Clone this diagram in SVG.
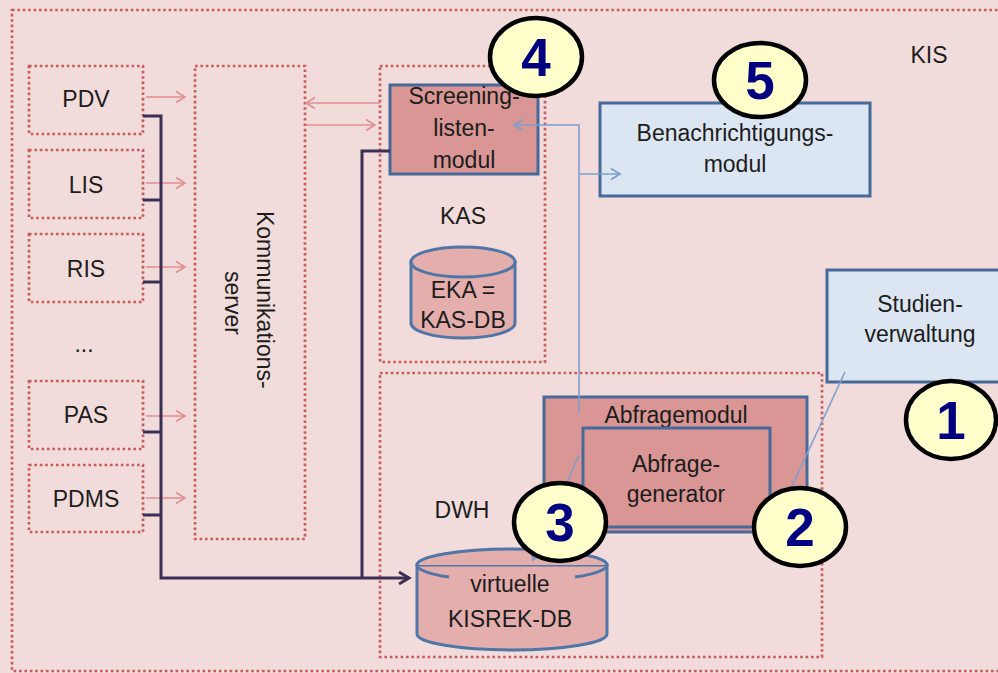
<svg xmlns="http://www.w3.org/2000/svg" width="998" height="673" viewBox="0 0 998 673">
  <defs>
    <style>
      .dot { fill: none; stroke: #c95b5f; stroke-width: 2.7; stroke-dasharray: 2.6 2.8; }
      .mod { fill: #d99694; stroke: #46699a; stroke-width: 3; }
      .info { fill: #dce6f2; stroke: #46699a; stroke-width: 3; }
      .db { fill: #e3aeac; stroke: #4f76a6; stroke-width: 3; }
      .lbl { font-family: "Liberation Sans", Arial, sans-serif; font-size: 23px; fill: #1c1c1c; text-anchor: middle; }
      .num { font-family: "Liberation Sans", Arial, sans-serif; font-size: 53px; font-weight: bold; fill: #000080; text-anchor: middle; }
      .badge { fill: #ffffcc; stroke: #000; stroke-width: 4.5; }
      .feed { fill: none; stroke: #e08f8f; stroke-width: 1.6; }
      .bus { fill: none; stroke: #3b2f55; stroke-width: 3; }
      .link { fill: none; stroke: #7f9fcb; stroke-width: 1.6; }
    </style>
    <marker id="ahPink" markerWidth="14" markerHeight="14" refX="11" refY="7" orient="auto" markerUnits="userSpaceOnUse">
      <polyline points="2,1.5 11,7 2,12.5" fill="none" stroke="#e08f8f" stroke-width="1.6"/>
    </marker>
    <marker id="ahBus" markerWidth="16" markerHeight="16" refX="13" refY="8" orient="auto" markerUnits="userSpaceOnUse">
      <polyline points="3,2 13,8 3,14" fill="none" stroke="#3b2f55" stroke-width="3"/>
    </marker>
    <marker id="ahBlue" markerWidth="14" markerHeight="14" refX="11" refY="7" orient="auto" markerUnits="userSpaceOnUse">
      <polyline points="2,1.5 11,7 2,12.5" fill="none" stroke="#7f9fcb" stroke-width="1.8"/>
    </marker>
  </defs>

  <!-- canvas -->
  <rect x="0" y="0" width="998" height="673" fill="#f2dcdb"/>

  <!-- KIS frame -->
  <g id="kis">
    <rect class="dot" x="12" y="10" width="1000" height="661"/>
    <text class="lbl" x="929" y="63">KIS</text>
  </g>

  <!-- source systems -->
  <g id="pdv">
    <rect class="dot" x="29" y="66" width="114" height="68"/>
    <text class="lbl" x="86" y="107">PDV</text>
  </g>
  <g id="lis">
    <rect class="dot" x="29" y="150" width="114" height="68"/>
    <text class="lbl" x="86" y="193">LIS</text>
  </g>
  <g id="ris">
    <rect class="dot" x="29" y="234" width="114" height="68"/>
    <text class="lbl" x="86" y="277">RIS</text>
  </g>
  <g id="more">
    <text class="lbl" x="84" y="352">...</text>
  </g>
  <g id="pas">
    <rect class="dot" x="29" y="381" width="114" height="68"/>
    <text class="lbl" x="86" y="423">PAS</text>
  </g>
  <g id="pdms">
    <rect class="dot" x="29" y="465" width="114" height="67"/>
    <text class="lbl" x="86" y="507">PDMS</text>
  </g>

  <!-- communication server -->
  <g id="kommunikationsserver">
    <rect class="dot" x="195" y="66" width="110" height="473"/>
    <text class="lbl" transform="translate(248,303) rotate(90)">
      <tspan x="0" y="-9">Kommunikations-</tspan>
      <tspan x="0" y="23">server</tspan>
    </text>
  </g>

  <!-- KAS -->
  <g id="kas">
    <rect class="dot" x="380" y="66" width="165" height="296"/>
    <text class="lbl" x="463" y="224">KAS</text>
  </g>
  <g id="screeninglistenmodul">
    <rect class="mod" x="390" y="85" width="148" height="89"/>
    <text class="lbl" x="464" y="104">Screening-</text>
    <text class="lbl" x="464" y="136">listen-</text>
    <text class="lbl" x="464" y="168">modul</text>
  </g>
  <g id="eka">
    <path class="db" d="M411,262 V323 A52,15 0 0 0 515,323 V262 Z"/>
    <ellipse class="db" cx="463" cy="262" rx="52" ry="15"/>
    <text class="lbl" x="463" y="298">EKA =</text>
    <text class="lbl" x="463" y="328">KAS-DB</text>
  </g>

  <!-- DWH -->
  <g id="dwh">
    <rect class="dot" x="380" y="373" width="442" height="284"/>
    <text class="lbl" x="462" y="518">DWH</text>
  </g>
  <g id="abfragemodul">
    <rect class="mod" x="544" y="397" width="263" height="135"/>
    <text class="lbl" x="676" y="423">Abfragemodul</text>
  </g>
  <g id="abfragegenerator">
    <rect class="mod" x="583" y="428" width="187" height="99"/>
    <text class="lbl" x="676" y="472">Abfrage-</text>
    <text class="lbl" x="676" y="502">generator</text>
  </g>
  <g id="kisrek">
    <path class="db" d="M417,565 V634 A95,16 0 0 0 607,634 V565 Z"/>
    <path d="M417,565 A95,16 0 0 1 607,565" fill="#e3aeac" stroke="#4f76a6" stroke-width="3"/>
    <path d="M417,565 A95,16 0 0 0 449,577 M575,577 A95,16 0 0 0 607,565" fill="none" stroke="#4f76a6" stroke-width="3"/>
    <text class="lbl" x="510" y="592">virtuelle</text>
    <text class="lbl" x="510" y="627">KISREK-DB</text>
  </g>

  <!-- notification and study modules -->
  <g id="benachrichtigungsmodul">
    <rect class="info" x="600" y="103" width="270" height="93"/>
    <text class="lbl" x="735" y="141">Benachrichtigungs-</text>
    <text class="lbl" x="735" y="172">modul</text>
  </g>
  <g id="studienverwaltung">
    <rect class="info" x="827" y="270" width="200" height="112"/>
    <text class="lbl" x="920" y="312">Studien-</text>
    <text class="lbl" x="920" y="342">verwaltung</text>
  </g>

  <!-- connectors -->
  <g id="connectors">
    <line class="feed" x1="146" y1="97" x2="185" y2="97" marker-end="url(#ahPink)"/>
    <line class="feed" x1="146" y1="183" x2="185" y2="183" marker-end="url(#ahPink)"/>
    <line class="feed" x1="146" y1="267" x2="185" y2="267" marker-end="url(#ahPink)"/>
    <line class="feed" x1="146" y1="416" x2="185" y2="416" marker-end="url(#ahPink)"/>
    <line class="feed" x1="146" y1="498" x2="185" y2="498" marker-end="url(#ahPink)"/>
    <line class="feed" x1="380" y1="103" x2="306" y2="103" marker-end="url(#ahPink)"/>
    <line class="feed" x1="306" y1="125" x2="375" y2="125" marker-end="url(#ahPink)"/>

    <path class="bus" d="M143,116 H161 V578 H409" marker-end="url(#ahBus)"/>
    <path class="bus" d="M143,200 H161 M143,282 H161 M143,432 H161 M143,515 H161"/>
    <path class="bus" d="M362,578 V151 H390"/>

    <path class="link" d="M579,413 V125 H514" marker-end="url(#ahBlue)"/>
    <line class="link" x1="579" y1="174" x2="620" y2="174" marker-end="url(#ahBlue)"/>
    <line class="link" x1="579" y1="455" x2="533" y2="560" marker-end="url(#ahBlue)"/>
    <line class="link" x1="845" y1="372" x2="773" y2="527"/>
  </g>

  <!-- numbered badges -->
  <g id="badge1">
    <ellipse class="badge" cx="951" cy="420" rx="45" ry="39"/>
    <text class="num" x="951" y="439">1</text>
  </g>
  <g id="badge2">
    <ellipse class="badge" cx="800" cy="527" rx="46" ry="39"/>
    <text class="num" x="800" y="546">2</text>
  </g>
  <g id="badge3">
    <ellipse class="badge" cx="560" cy="522" rx="46" ry="39"/>
    <text class="num" x="560" y="541">3</text>
  </g>
  <g id="badge4">
    <ellipse class="badge" cx="536" cy="57" rx="46" ry="39"/>
    <text class="num" x="536" y="76">4</text>
  </g>
  <g id="badge5">
    <ellipse class="badge" cx="760" cy="80" rx="46" ry="37"/>
    <text class="num" x="760" y="99">5</text>
  </g>
</svg>
